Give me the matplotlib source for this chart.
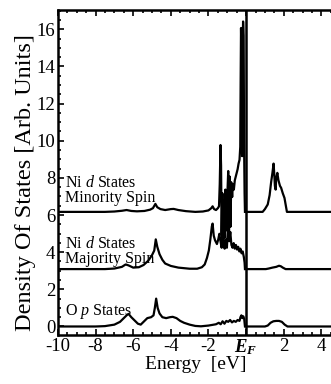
import matplotlib
matplotlib.use('Agg')
import matplotlib.pyplot as plt
from matplotlib.ticker import MultipleLocator
import numpy as np

plt.rcParams['font.family'] = ['Liberation Serif', 'DejaVu Serif']
plt.rcParams['mathtext.fontset'] = 'custom'
plt.rcParams['mathtext.rm'] = 'Liberation Serif'
plt.rcParams['mathtext.it'] = 'Liberation Serif:italic'
plt.rcParams['mathtext.bf'] = 'Liberation Serif:bold'
plt.rcParams['mathtext.bfit'] = 'Liberation Serif:italic:bold'

# O p states, below / above the Fermi level
op_e_occ = [-10.0, -8.0, -7.5, -7.0, -6.7, -6.5, -6.35, -6.25, -6.1, -5.9, -5.75, -5.6,
            -5.45, -5.25, -5.05, -4.92, -4.85, -4.78, -4.7, -4.6, -4.45, -4.25, -4.05,
            -3.9, -3.7, -3.5, -3.3, -3.0, -2.7, -2.4, -2.0, -1.6, -1.45, -1.35, -1.25,
            -1.15, -1.05, -0.95, -0.85, -0.75, -0.65, -0.55, -0.45, -0.35, -0.3, -0.25,
            -0.2, -0.15, -0.1, -0.06]
op_dos_occ = [0.0, 0.0, 0.02, 0.1, 0.25, 0.45, 0.6, 0.68, 0.5, 0.3, 0.15, 0.1,
              0.25, 0.45, 0.5, 0.6, 1.0, 1.5, 1.0, 0.7, 0.5, 0.45, 0.5,
              0.52, 0.45, 0.3, 0.2, 0.1, 0.03, 0.01, 0.05, 0.12, 0.2, 0.12, 0.28,
              0.15, 0.3, 0.25, 0.35, 0.22, 0.3, 0.25, 0.35, 0.3, 0.5, 0.6,
              0.45, 0.55, 0.4, 0.0]
op_e_unocc = [0.05, 1.0, 1.15, 1.3, 1.45, 1.6, 1.75, 1.9, 2.05, 2.2, 4.6]
op_dos_unocc = [0.0, 0.0, 0.05, 0.2, 0.28, 0.3, 0.3, 0.25, 0.1, 0.0, 0.0]

# Ni d majority spin
maj_e_occ = [-10.0, -7.5, -7.0, -6.6, -6.4, -6.25, -6.0, -5.7, -5.45, -5.2, -5.0, -4.88,
             -4.8, -4.72, -4.6, -4.45, -4.3, -4.0, -3.6, -3.0, -2.6, -2.35, -2.2, -2.08,
             -1.98, -1.9, -1.82, -1.78, -1.72, -1.65, -1.55, -1.48, -1.42, -1.36, -1.3,
             -1.25, -1.2, -1.14, -1.08, -1.02, -0.96, -0.9, -0.84, -0.78, -0.72, -0.66,
             -0.6, -0.54, -0.48, -0.42, -0.36, -0.3, -0.24, -0.18, -0.12, -0.08, -0.06]
maj_dos_occ = [0.0, 0.0, 0.03, 0.12, 0.25, 0.2, 0.08, 0.1, 0.22, 0.45, 0.75, 1.0,
               1.6, 1.2, 0.8, 0.5, 0.3, 0.17, 0.08, 0.02, 0.02, 0.1, 0.25, 0.6,
               1.0, 1.6, 2.3, 2.45, 1.8, 1.55, 1.35, 1.6, 1.9, 1.5, 1.15,
               2.2, 1.3, 1.1, 1.6, 1.15, 2.4, 1.5, 2.0, 1.3, 1.15, 1.4,
               1.1, 1.3, 1.05, 1.2, 0.95, 1.1, 0.85, 0.95, 0.65, 0.35, 0.0]
maj_e_unocc = [0.05, 1.05, 1.2, 1.4, 1.6, 1.75, 1.85, 1.95, 2.1, 4.6]
maj_dos_unocc = [0.0, 0.0, 0.03, 0.08, 0.12, 0.18, 0.15, 0.08, 0.0, 0.0]

# Ni d minority spin
min_e_occ = [-10.0, -7.5, -7.0, -6.6, -6.35, -6.1, -5.8, -5.4, -5.1, -4.95, -4.82, -4.72,
             -4.55, -4.3, -4.0, -3.85, -3.6, -3.2, -2.7, -2.3, -2.0, -1.85, -1.78, -1.7,
             -1.6, -1.5, -1.44, -1.4, -1.36, -1.33, -1.3, -1.26, -1.22, -1.18, -1.14,
             -1.1, -1.05, -1.0, -0.95, -0.91, -0.87, -0.83, -0.79, -0.74, -0.7, -0.65,
             -0.6, -0.55, -0.5, -0.45, -0.4, -0.35, -0.31, -0.29, -0.27, -0.24, -0.21,
             -0.18, -0.16, -0.13, -0.11, -0.08, -0.06]
min_dos_occ = [0.0, 0.0, 0.02, 0.06, 0.1, 0.05, 0.03, 0.05, 0.12, 0.2, 0.43, 0.25,
               0.15, 0.1, 0.15, 0.16, 0.1, 0.04, 0.0, 0.02, 0.08, 0.2, 0.3, 0.15,
               0.1, 0.2, 0.3, 1.5, 3.6, 2.5, -1.2, 1.0, -1.6, 0.6, -1.4,
               1.2, -1.0, 0.8, 2.2, -1.5, 1.9, -0.8, 1.6, 0.8, 1.5, 1.2,
               1.7, 1.9, 2.1, 2.3, 2.6, 2.8, 3.5, 7.0, 9.9, 8.0, 3.0,
               9.0, 10.25, 9.5, 4.0, 1.0, 0.0]
min_e_unocc = [0.05, 0.88, 1.0, 1.15, 1.25, 1.33, 1.4, 1.46, 1.5, 1.53, 1.57, 1.6, 1.66,
               1.72, 1.8, 1.86, 1.95, 2.04, 2.1, 2.17, 4.6]
min_dos_unocc = [0.0, 0.0, 0.15, 0.4, 0.9, 1.6, 2.1, 2.6, 2.0, 1.4, 1.2, 1.8, 2.1,
                 1.7, 1.4, 1.3, 1.0, 0.75, 0.4, 0.0, 0.0]

offsets = [0.0, 3.09, 6.17]
labels = ['O $p$ States', 'Ni $d$ States\nMajority Spin', 'Ni $d$ States\nMinority Spin']
label_lift = [0.3, 0.1, 0.3]
xtick_vals = [-10, -8, -6, -4, -2, 0, 2, 4]
xtick_labels = ['-10', '-8', '-6', '-4', '-2', r'$\mathbfit{E}_{\mathbfit{F}}$', '2', '4']
ytick_vals = [0, 2, 4, 6, 8, 10, 12, 14, 16]

fig = plt.figure(figsize=(3.31, 3.84), dpi=100)
ax = fig.add_axes([0.175, 0.128, 0.83, 0.846])

curves = [(op_e_occ, op_dos_occ, op_e_unocc, op_dos_unocc),
          (maj_e_occ, maj_dos_occ, maj_e_unocc, maj_dos_unocc),
          (min_e_occ, min_dos_occ, min_e_unocc, min_dos_unocc)]
for (e1, d1, e2, d2), off in zip(curves, offsets):
    ax.plot(e1, np.array(d1) + off, color='black', lw=1.6)
    ax.plot(e2, np.array(d2) + off, color='black', lw=1.6)

ax.axvline(0, color='black', lw=1.8)

# curve labels sit just above each baseline
for lab, off, lift in zip(labels, offsets, label_lift):
    ax.text(-9.6, off + lift, lab, fontsize=11.5, va='bottom', linespacing=0.95)

ax.set_xlim(-10, 4.6)
ax.set_ylim(-0.45, 17.04)
ax.set_xticks(xtick_vals)
ax.set_xticklabels(xtick_labels)
ax.set_yticks(ytick_vals)
ax.xaxis.set_minor_locator(MultipleLocator(0.5))
ax.yaxis.set_minor_locator(MultipleLocator(0.5))
ax.tick_params(which='both', direction='in', top=True, right=False, width=1.2,
               labelsize=13.5, pad=2)
ax.tick_params(which='major', length=4)
ax.tick_params(which='minor', length=2)
for s in ['left', 'top', 'bottom']:
    ax.spines[s].set_linewidth(1.8)
ax.spines['right'].set_visible(False)

ax.set_xlabel('Energy  [eV]', fontsize=14, labelpad=-1)
ax.set_ylabel('Density Of States [Arb. Units]', fontsize=17.5)
ax.yaxis.set_label_coords(-0.08, 0.47)

fig.savefig('out.png', dpi=100)
